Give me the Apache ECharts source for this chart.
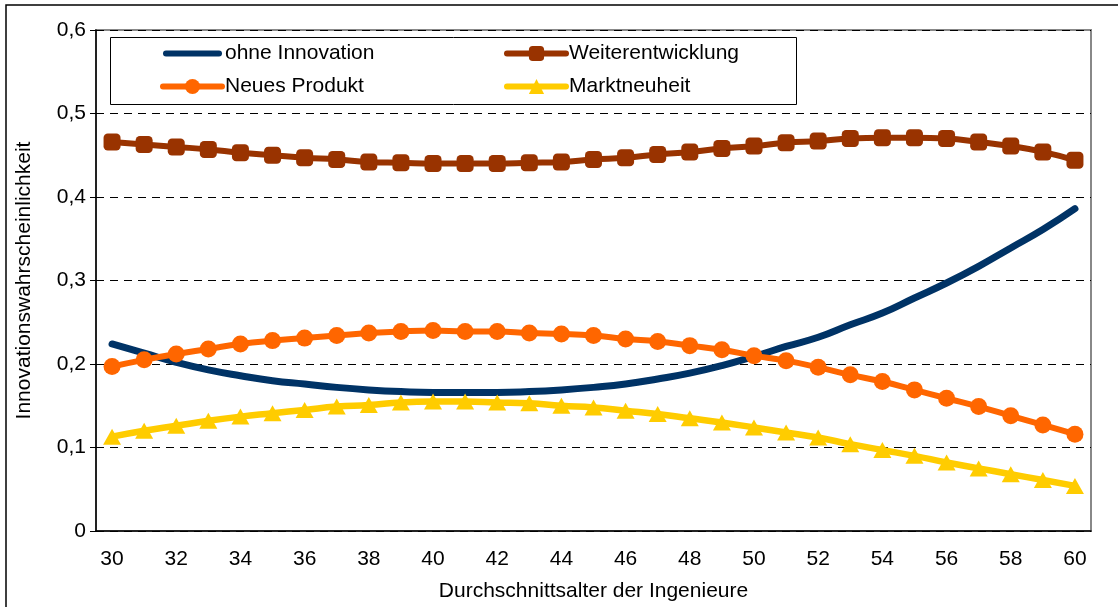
<!DOCTYPE html>
<html>
<head>
<meta charset="utf-8">
<script src="https://cdn.jsdelivr.net/npm/echarts@6/dist/echarts.min.js"></script>
<style>
  html, body { margin: 0; padding: 0; background: #fff; }
  #chart { width: 1118px; height: 607px; }
</style>
</head>
<body>
<div id="chart"></div>
<script>
const ages = ['30','31','32','33','34','35','36','37','38','39','40','41','42','43','44','45',
  '46','47','48','49','50','51','52','53','54','55','56','57','58','59','60']

const ohneInnovation = [0.224,0.213,0.202,0.193,0.186,0.180,0.176,0.172,0.169,0.167,0.166,
  0.166,0.166,0.167,0.169,0.172,0.176,0.182,0.189,0.198,0.209,0.221,0.232,0.247,0.261,
  0.279,0.297,0.317,0.339,0.361,0.386]

const weiterentwicklung = [0.466,0.463,0.460,0.457,0.453,0.450,0.447,0.445,0.442,0.441,0.440,
  0.440,0.440,0.441,0.442,0.445,0.447,0.451,0.454,0.458,0.461,0.465,0.467,0.470,0.471,
  0.471,0.470,0.466,0.461,0.454,0.444]

const neuesProdukt = [0.197,0.205,0.212,0.218,0.224,0.228,0.231,0.234,0.237,0.239,0.240,
  0.239,0.239,0.237,0.236,0.234,0.230,0.227,0.222,0.217,0.210,0.204,0.196,0.187,0.179,
  0.169,0.159,0.149,0.138,0.127,0.116]

const marktneuheit = [0.113,0.120,0.126,0.132,0.137,0.141,0.145,0.149,0.151,0.154,0.155,
  0.155,0.154,0.153,0.150,0.148,0.144,0.140,0.135,0.130,0.124,0.118,0.112,0.104,0.097,
  0.090,0.082,0.075,0.068,0.061,0.054]

const font = '"Liberation Sans", Arial, sans-serif'

const chart = echarts.init(document.getElementById('chart'))

// plain thick bar for the line without markers
const barIcon = 'path://M3,0 L56,0 A3,3 0 0 1 56,6 L3,6 A3,3 0 0 1 3,0 Z'

const legendBase = {
  orient: 'vertical',
  top: 38,
  itemWidth: 59,
  itemHeight: 19,
  itemGap: 12,
  lineStyle: { width: 6, cap: 'round' },
  textStyle: { color: '#000', fontSize: 21, fontFamily: font, padding: [2, 0, 0, -2] }
}

chart.setOption({
  backgroundColor: '#fff',
  animation: false,
  graphic: [
    {
      type: 'rect',
      shape: { x: 6, y: 5, width: 1120, height: 620 },
      style: { fill: 'none', stroke: '#000', lineWidth: 1.5 },
      silent: true
    },
    {
      type: 'rect',
      shape: { x: 110.5, y: 37.5, width: 686, height: 67 },
      style: { fill: '#fff', stroke: '#000', lineWidth: 1 },
      z: 10,
      silent: true
    }
  ],
  legend: [
    Object.assign({}, legendBase, {
      left: 155,
      data: [{ name: 'ohne Innovation', icon: barIcon }, 'Neues Produkt'],
      z: 20
    }),
    Object.assign({}, legendBase, { left: 499, data: ['Weiterentwicklung', 'Marktneuheit'], z: 20 })
  ],
  grid: {
    left: 96,
    right: 27,
    top: 30,
    bottom: 76,
    show: true,
    borderColor: '#888',
    borderWidth: 2,
    backgroundColor: '#fff'
  },
  xAxis: {
    type: 'category',
    data: ages,
    boundaryGap: true,
    name: 'Durchschnittsalter der Ingenieure',
    nameLocation: 'middle',
    nameGap: 50,
    nameTextStyle: { color: '#000', fontSize: 21, fontFamily: font },
    axisLine: { lineStyle: { color: '#000', width: 1.5 } },
    axisTick: { interval: 0, length: 6, lineStyle: { color: '#000' } },
    axisLabel: { interval: 1, color: '#000', fontSize: 21, fontFamily: font, margin: 18 },
    splitLine: { show: false }
  },
  yAxis: {
    type: 'value',
    min: 0,
    max: 0.6,
    interval: 0.1,
    name: 'Innovationswahrscheinlichkeit',
    nameLocation: 'middle',
    nameGap: 61,
    nameTextStyle: { color: '#000', fontSize: 21, fontFamily: font },
    axisLine: { show: true, lineStyle: { color: '#000', width: 1.5 } },
    axisTick: { show: true, length: 6, lineStyle: { color: '#000' } },
    axisLabel: {
      color: '#000', fontSize: 21, fontFamily: font, margin: 10,
      formatter: v => v === 0 ? '0' : v.toFixed(1).replace('.', ',')
    },
    splitLine: { lineStyle: { color: '#000', type: [8, 6], width: 1 } }
  },
  series: [
    {
      name: 'ohne Innovation',
      type: 'line',
      data: ohneInnovation,
      smooth: true,
      showSymbol: false,
      symbol: 'none',
      color: '#003366',
      lineStyle: { width: 7, color: '#003366', cap: 'round' },
      z: 3
    },
    {
      name: 'Weiterentwicklung',
      type: 'line',
      data: weiterentwicklung,
      smooth: true,
      symbol: 'roundRect',
      symbolSize: 17,
      color: '#993300',
      lineStyle: { width: 6, color: '#993300' },
      itemStyle: { color: '#993300' },
      z: 4
    },
    {
      name: 'Neues Produkt',
      type: 'line',
      data: neuesProdukt,
      smooth: true,
      symbol: 'circle',
      symbolSize: 17,
      color: '#FF6600',
      lineStyle: { width: 6, color: '#FF6600' },
      itemStyle: { color: '#FF6600' },
      z: 5
    },
    {
      name: 'Marktneuheit',
      type: 'line',
      data: marktneuheit,
      smooth: true,
      symbol: 'triangle',
      symbolSize: [18, 16],
      color: '#FFCC00',
      lineStyle: { width: 6.5, color: '#FFCC00' },
      itemStyle: { color: '#FFCC00' },
      z: 4
    }
  ]
})
</script>
</body>
</html>
